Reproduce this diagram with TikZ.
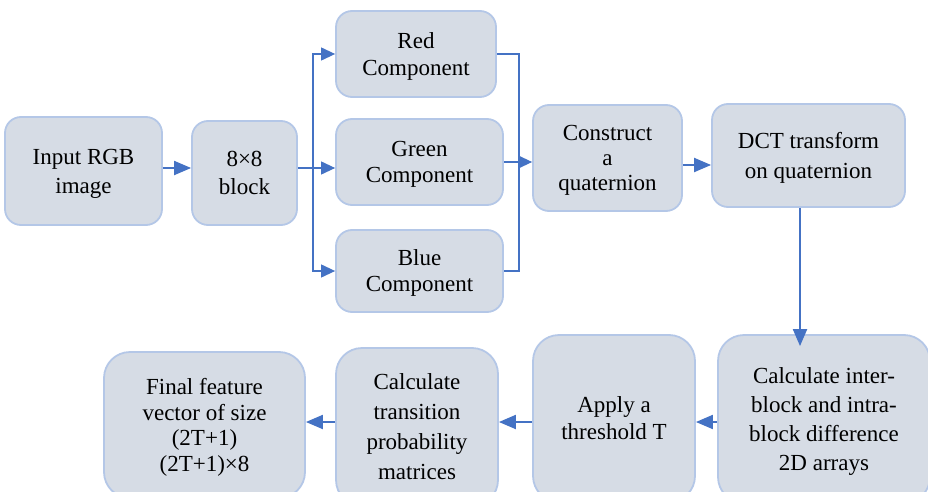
\documentclass[tikz,border=0pt]{standalone}
\usepackage{fontspec}
\setmainfont{Liberation Serif}
\usetikzlibrary{arrows.meta}
\definecolor{boxfill}{HTML}{D6DCE5}
\definecolor{boxline}{HTML}{B4C7E7}
\definecolor{flow}{HTML}{4472C4}
\tikzset{
  box/.style={draw=boxline, line width=1.8pt, fill=boxfill, rounded corners=16pt,
    align=center, inner sep=0pt, text depth=-3pt},
  ls/.style={font=\fontsize{23}{#1}\selectfont},
  flowarrow/.style={draw=flow, line width=2pt,
    -{Triangle[length=17pt,width=14pt]}},
  feedline/.style={draw=flow, line width=1.2pt},
  feedarrow/.style={feedline, -{Triangle[length=14pt,width=13pt]}}
}
\begin{document}
\begin{tikzpicture}[x=1pt,y=-1pt]
\useasboundingbox (0,0) rectangle (928,492);
\clip (0,0) rectangle (928,492);

% top row
\node[box, ls=29, minimum width=157pt, minimum height=108pt] (input) at (83.5,171) {Input RGB\\image};
\node[box, ls=28, minimum width=105pt, minimum height=104pt] (blk) at (244.5,173) {8×8\\block};
\node[box, ls=27, minimum width=160pt, minimum height=86pt] (red) at (416,54) {Red\\Component};
\node[box, ls=26, minimum width=167pt, minimum height=86pt] (green) at (419.5,162) {Green\\Component};
\node[box, ls=26, minimum width=167pt, minimum height=82pt] (blue) at (419.5,271) {Blue\\Component};
\node[box, ls=25, minimum width=149pt, minimum height=106pt] (quat) at (607.5,158) {Construct\\a\\quaternion};
\node[box, ls=30, minimum width=193pt, minimum height=103pt] (dct) at (808.5,155.5) {DCT transform\\on quaternion};

% bottom row
\node[box, ls=29, rounded corners=26pt, minimum width=212pt, minimum height=168pt] (diff) at (824,419) {Calculate inter-\\block and intra-\\block difference\\2D arrays};
\node[box, ls=27, rounded corners=26pt, minimum width=162pt, minimum height=167pt] (thr) at (614,418.5) {Apply a\\threshold T};
\node[box, ls=30, rounded corners=26pt, minimum width=162pt, minimum height=158pt] (tpm) at (417,427) {Calculate\\transition\\probability\\matrices};
\node[box, ls=25.5, rounded corners=26pt, minimum width=201pt, minimum height=146pt] (feat) at (204.5,425) {Final feature\\vector of size\\(2T+1)\\(2T+1)×8};

% routing points
\coordinate (row1) at (0,168);
\coordinate (split) at (313,168);
\coordinate (merge) at (519,0);
\coordinate (row2) at (0,165);
\coordinate (drop) at (800,0);
\coordinate (row3) at (0,422);

% connectors
\draw[flowarrow] (input.east |- row1) -- (blk.west |- row1);
\draw[feedline] (blk.east |- row1) -- (split);
\draw[feedarrow] (split) |- (red.west);
\draw[feedarrow] (split) -- (green.west |- split);
\draw[feedarrow] (split) |- (blue.west);
\draw[feedline] (red.east) -| (merge |- blue.east) -- (blue.east);
\draw[feedarrow] (green.east) -- (quat.west |- green.east);
\draw[flowarrow] (quat.east |- row2) -- (dct.west |- row2);
\draw[flowarrow, shorten >=-12pt] (dct.south -| drop) -- (diff.north -| drop);
\draw[flowarrow] (diff.west |- row3) -- (thr.east |- row3);
\draw[flowarrow] (thr.west |- row3) -- (tpm.east |- row3);
\draw[flowarrow] (tpm.west |- row3) -- (feat.east |- row3);
\end{tikzpicture}
\end{document}
